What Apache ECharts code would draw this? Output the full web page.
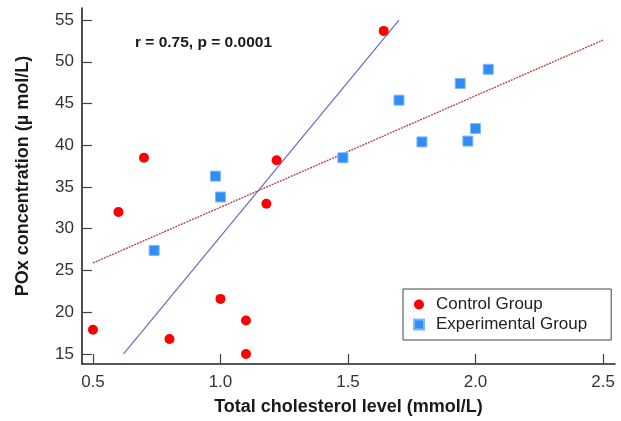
<!DOCTYPE html>
<html>
<head>
<meta charset="utf-8">
<script src="https://cdn.jsdelivr.net/npm/echarts@6/dist/echarts.min.js"></script>
<style>
html,body{margin:0;padding:0;background:#fff;}
#chart{width:621px;height:421px;}
</style>
</head>
<body>
<div id="chart"></div>
<script>
// Data
var controlX = [0.5, 0.6, 0.7, 0.8, 1.0, 1.1, 1.1, 1.18, 1.22, 1.64];
var controlY = [17.9, 32.0, 38.5, 16.8, 21.6, 19.0, 15.0, 33.0, 38.2, 53.7];
var expX = [0.74, 0.98, 1.0, 1.48, 1.70, 1.79, 1.94, 1.97, 2.0, 2.05];
var expY = [27.4, 36.3, 33.8, 38.5, 45.4, 40.4, 47.4, 40.5, 42.0, 49.1];
var blueLineX = [0.62, 1.70];
var blueLineY = [15.0, 55.0];
var redLineX = [0.5, 2.5];
var redLineY = [25.9, 52.6];
var xTicks = [0.5, 1.0, 1.5, 2.0, 2.5];
var yTicks = [15, 20, 25, 30, 35, 40, 45, 50, 55];
var seriesNames = ['Control Group', 'Experimental Group'];
var annotation = 'r = 0.75, p = 0.0001';
var xTitle = 'Total cholesterol level (mmol/L)';
var yTitle = 'POx concentration (\u00B5 mol/L)';

function zip(a, b) { return a.map(function (v, i) { return [v, b[i]]; }); }

var FONT = '"Liberation Sans", Arial, sans-serif';
var chart = echarts.init(document.getElementById('chart'), null, {renderer: 'canvas'});
chart.setOption({
  animation: false,
  backgroundColor: '#ffffff',
  textStyle: {fontFamily: FONT},
  title: {
    text: annotation,
    left: 135, top: 35, padding: 0,
    textStyle: {fontFamily: FONT, fontSize: 15.5, fontWeight: 'bold', color: '#1a1a1a'}
  },
  grid: {left: 82, right: 6, top: 8, bottom: 57, containLabel: false},
  legend: {
    data: [
      {name: seriesNames[0], icon: 'circle'},
      {name: seriesNames[1], icon: 'rect'}
    ],
    orient: 'vertical',
    left: 403, top: 289,
    itemWidth: 10, itemHeight: 10, itemGap: 3,
    padding: [7, 24, 7, 10],
    borderColor: '#444', borderWidth: 1, borderRadius: 0,
    backgroundColor: '#fff',
    textStyle: {fontFamily: FONT, fontSize: 17, color: '#222', padding: [0, 0, 0, 7]}
  },
  xAxis: {
    type: 'value', min: 0.457, max: 2.547,
    name: xTitle, nameLocation: 'middle', nameGap: 34,
    nameTextStyle: {fontFamily: FONT, fontSize: 18, fontWeight: 'bold', color: '#1a1a1a'},
    splitLine: {show: false},
    axisLine: {show: true, onZero: false, lineStyle: {color: '#222', width: 1.6}},
    axisTick: {show: true, inside: true, length: 10, customValues: xTicks, lineStyle: {color: '#444', width: 1.2}},
    axisLabel: {customValues: xTicks, margin: 10, fontSize: 17, color: '#333', fontFamily: FONT,
      formatter: function (v) { return v.toFixed(1); }}
  },
  yAxis: {
    type: 'value', min: 13.8, max: 56.44,
    name: yTitle, nameLocation: 'middle', nameGap: 50,
    nameTextStyle: {fontFamily: FONT, fontSize: 18, fontWeight: 'bold', color: '#1a1a1a', padding: [0, 0, 0, 20]},
    splitLine: {show: false},
    axisLine: {show: true, onZero: false, lineStyle: {color: '#222', width: 1.6}},
    axisTick: {show: true, inside: true, length: 10, customValues: yTicks, lineStyle: {color: '#444', width: 1.2}},
    axisLabel: {customValues: yTicks, margin: 8, fontSize: 17, color: '#333', fontFamily: FONT}
  },
  series: [
    {
      name: 'fit-all', type: 'line', data: zip(redLineX, redLineY),
      symbol: 'none', z: 1, silent: true,
      lineStyle: {color: '#b24a4a', width: 1.4, type: [2, 1]}
    },
    {
      name: 'fit-control', type: 'line', data: zip(blueLineX, blueLineY),
      symbol: 'none', z: 1, silent: true,
      lineStyle: {color: '#6a6ac4', width: 1.2}
    },
    {
      name: seriesNames[0], type: 'scatter', data: zip(controlX, controlY),
      symbol: 'circle', symbolSize: 10, z: 3,
      itemStyle: {color: '#ff0000', opacity: 1}
    },
    {
      name: seriesNames[1], type: 'scatter', data: zip(expX, expY),
      symbol: 'rect', symbolSize: 10, z: 3,
      itemStyle: {color: '#2f8df5', borderColor: '#7cb9ff', borderWidth: 1, opacity: 1}
    }
  ]
});
</script>
</body>
</html>
